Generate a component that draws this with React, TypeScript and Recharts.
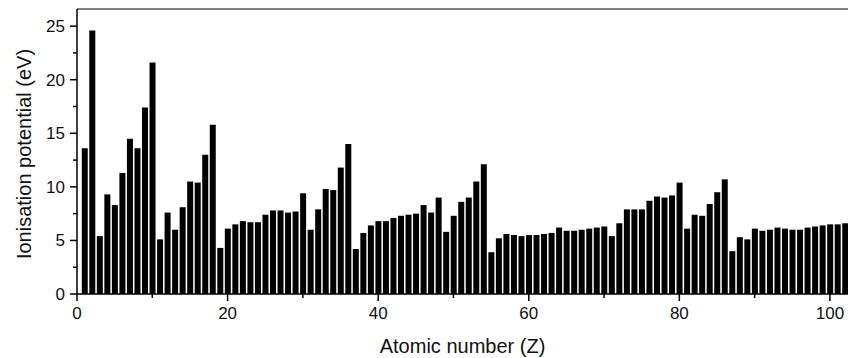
import React from "react";
import { Bar, BarChart, ReferenceLine, XAxis, YAxis } from "recharts";

// Z = 1 .. 102
const atomicNumbers = [
  1, 2, 3, 4, 5, 6, 7, 8, 9, 10, 11, 12, 13, 14, 15, 16, 17, 18, 19, 20,
  21, 22, 23, 24, 25, 26, 27, 28, 29, 30, 31, 32, 33, 34, 35, 36, 37, 38, 39, 40,
  41, 42, 43, 44, 45, 46, 47, 48, 49, 50, 51, 52, 53, 54, 55, 56, 57, 58, 59, 60,
  61, 62, 63, 64, 65, 66, 67, 68, 69, 70, 71, 72, 73, 74, 75, 76, 77, 78, 79, 80,
  81, 82, 83, 84, 85, 86, 87, 88, 89, 90, 91, 92, 93, 94, 95, 96, 97, 98, 99, 100,
  101, 102,
];

// first ionisation potential, eV
const ionisationPotentials = [
  13.6, 24.6, 5.4, 9.3, 8.3, 11.3, 14.5, 13.6, 17.4, 21.6,
  5.1, 7.6, 6.0, 8.1, 10.5, 10.4, 13.0, 15.8, 4.3, 6.1,
  6.5, 6.8, 6.7, 6.7, 7.4, 7.8, 7.8, 7.6, 7.7, 9.4,
  6.0, 7.9, 9.8, 9.7, 11.8, 14.0, 4.2, 5.7, 6.4, 6.8,
  6.8, 7.1, 7.3, 7.4, 7.5, 8.3, 7.6, 9.0, 5.8, 7.3,
  8.6, 9.0, 10.5, 12.1, 3.9, 5.2, 5.6, 5.5, 5.4, 5.5,
  5.5, 5.6, 5.7, 6.2, 5.9, 5.9, 6.0, 6.1, 6.2, 6.3,
  5.4, 6.6, 7.9, 7.9, 7.9, 8.7, 9.1, 9.0, 9.2, 10.4,
  6.1, 7.4, 7.3, 8.4, 9.5, 10.7, 4.0, 5.3, 5.1, 6.1,
  5.9, 6.0, 6.2, 6.1, 6.0, 6.0, 6.2, 6.3, 6.4, 6.5,
  6.5, 6.6,
];

const xTicks = [0, 10, 20, 30, 40, 50, 60, 70, 80, 90, 100];
const xLabelled = [0, 20, 40, 60, 80, 100];
const yTicks = [0, 2.5, 5, 7.5, 10, 12.5, 15, 17.5, 20, 22.5, 25];
const yLabelled = [0, 5, 10, 15, 20, 25];

const data = atomicNumbers.map((z, i) => ({ z, ip: ionisationPotentials[i] }));

const FONT = '"Liberation Sans", Arial, sans-serif';

function XTick(props: any) {
  const { x, y, payload } = props;
  const major = xLabelled.includes(payload.value);
  return (
    <g>
      <line x1={x} x2={x} y1={y} y2={y + (major ? 7 : 4)} stroke="#000" strokeWidth={1.5} />
      {major && (
        <text x={x} y={y + 25} textAnchor="middle" fontSize={17} fontFamily={FONT} fill="#111">
          {payload.value}
        </text>
      )}
    </g>
  );
}

function YTick(props: any) {
  const { x, y, payload } = props;
  const major = yLabelled.includes(payload.value);
  return (
    <g>
      <line x1={x} x2={x - (major ? 7 : 4)} y1={y} y2={y} stroke="#000" strokeWidth={1.5} />
      {major && (
        <text x={x - 12} y={y + 6} textAnchor="end" fontSize={17} fontFamily={FONT} fill="#111">
          {payload.value}
        </text>
      )}
    </g>
  );
}

export default function App() {
  return (
    <div style={{ position: "absolute", left: 0, top: 0, width: 848, height: 358, background: "#fff", overflow: "hidden" }}>
      <BarChart
        width={848}
        height={358}
        data={data}
        margin={{ top: 9, right: 0, bottom: 0, left: 0 }}
      >
        <XAxis
          dataKey="z"
          type="number"
          domain={[0, 102.4]}
          ticks={xTicks}
          interval={0}
          height={64}
          tickSize={0}
          tickMargin={0}
          tickLine={false}
          tick={<XTick />}
          axisLine={{ stroke: "#000", strokeWidth: 1.5 }}
          label={(p: any) => (
            <text
              x={p.viewBox.x + p.viewBox.width / 2}
              y={353}
              textAnchor="middle"
              fontSize={20}
              fontFamily={FONT}
              fill="#111"
            >
              Atomic number (Z)
            </text>
          )}
        />
        <YAxis
          type="number"
          domain={[0, 26.6]}
          ticks={yTicks}
          interval={0}
          width={77}
          tickSize={0}
          tickMargin={0}
          tickLine={false}
          tick={<YTick />}
          axisLine={{ stroke: "#000", strokeWidth: 1.5 }}
          label={() => (
            <text
              x={31}
              y={154}
              transform="rotate(-90 31 154)"
              textAnchor="middle"
              fontSize={20}
              fontFamily={FONT}
              fill="#111"
            >
              Ionisation potential (eV)
            </text>
          )}
        />
        <ReferenceLine y={26.6} stroke="#555" strokeWidth={1.5} />
        <Bar dataKey="ip" fill="#000" barSize={6} isAnimationActive={false} />
      </BarChart>
    </div>
  );
}
